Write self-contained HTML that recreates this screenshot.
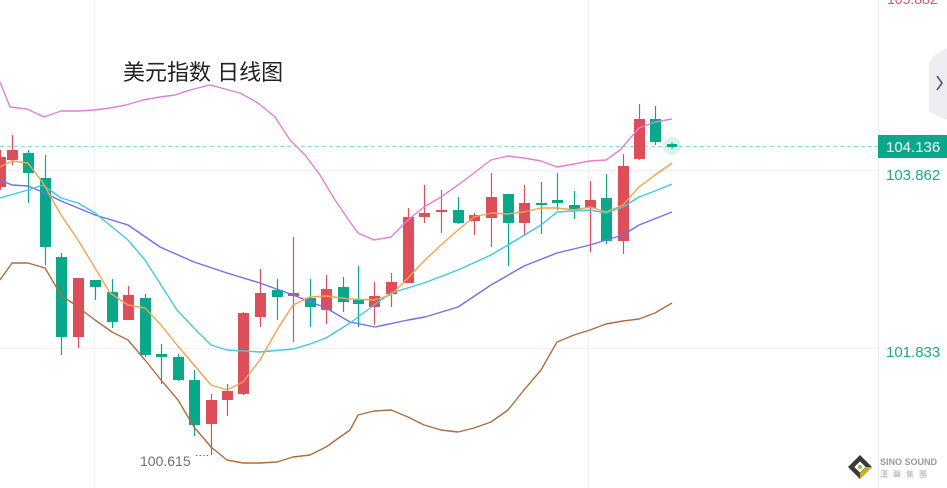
<!DOCTYPE html>
<html><head><meta charset="utf-8"><style>
html,body{margin:0;padding:0;background:#fff;width:947px;height:488px;overflow:hidden}
svg{display:block}
</style></head><body>
<svg width="947" height="488" viewBox="0 0 947 488" xmlns="http://www.w3.org/2000/svg" font-family="Liberation Sans, Noto Sans CJK SC, sans-serif">
<rect width="947" height="488" fill="#fff"/>
<!-- grid -->
<g stroke="#f0f1f5" stroke-width="1">
<line x1="0" y1="170.5" x2="878" y2="170.5"/>
<line x1="0" y1="348.5" x2="878" y2="348.5"/>
<line x1="94.5" y1="0" x2="94.5" y2="488"/>
<line x1="588.5" y1="0" x2="588.5" y2="488"/>
</g>
<line x1="878.5" y1="0" x2="878.5" y2="488" stroke="#ececef"/>
<line x1="0" y1="146.5" x2="878" y2="146.5" stroke="#8fdccb" stroke-dasharray="4,3"/>
<text x="123" y="80" font-size="22" fill="#222" font-family="Liberation Sans, Noto Sans CJK SC, sans-serif">美元指数 日线图</text>
<!-- candles -->
<g id="c" stroke-width="1.2"></g>
<g fill="none" stroke-width="1.4" stroke-linejoin="round">
<polyline stroke="#df7fd6" points="0,82 10,107 27,109 44,117 61,111 78,111 95,110 110,108 126,105 143,100 160,97 175,95 190,90 210,85 225,89 240,93 258,103 275,117 290,140 305,155 320,175 335,200 350,222 358,233 374,240 391,237 408,220 424,207 441,197 458,185 474,173 491,160 508,156 524,158 541,161 557,167 574,164 590,161 606,160 620,150 639,128 655,122 672,119"/>
<polyline stroke="#6f6ff2" points="0,180 12,185 28,186 45,193 61,201 78,208 95,215 128,225 160,247 194,262 227,273 260,283 293,295 326,308 350,322 375,327 408,320 425,317 458,307 491,285 524,266 557,253 590,245 606,240 623,235 639,225 672,212"/>
<polyline stroke="#40c8e2" points="0,198 28,190 43,185 61,198 78,203 95,213 128,240 145,260 161,285 177,310 194,328 211,345 227,350 260,352 293,349 310,344 326,338 350,323 374,305 391,293 424,283 458,270 491,255 508,245 541,225 557,212 590,210 606,213 623,207 639,197 655,191 672,184"/>
<polyline stroke="#f6a24c" points="0,167 12,161 28,163 43,183 61,215 78,240 95,268 110,293 128,305 145,308 161,325 177,345 194,365 211,385 227,390 243,382 260,360 277,330 293,305 310,297 326,296 350,299 374,300 391,295 408,278 424,261 441,245 458,230 474,217 491,213 508,214 524,212 541,208 557,208 574,210 590,207 606,212 623,205 639,187 655,175 672,163"/>
<polyline stroke="#b06c3c" points="0,280 12,263 28,263 45,268 61,295 78,307 95,320 112,332 128,340 145,360 161,380 178,400 194,427 211,447 227,460 243,463 260,463 277,462 293,457 310,455 326,447 350,430 358,415 374,411 391,410 408,417 424,425 441,430 458,432 474,428 491,422 508,410 524,390 541,370 557,342 574,335 590,330 606,324 623,321 639,319 655,313 672,303"/>
</g>
<circle cx="672" cy="146" r="9" fill="#0aa88a" opacity="0.15"/>
<rect x="667" y="144" width="10" height="3" fill="#0aa88a"/>
<line x1="672" y1="142" x2="672" y2="149" stroke="#0aa88a"/>
<text x="140" y="466" font-size="14" fill="#6a6f7a">100.615</text>
<line x1="196" y1="455.5" x2="210" y2="455.5" stroke="#6a6f7a" stroke-dasharray="1.5,2"/>
<!-- axis labels -->
<text x="887" y="4" font-size="14" fill="#e0525c">105.882</text>
<rect x="878" y="135" width="69" height="23" fill="#0aa88a"/>
<text x="886" y="152" font-size="15" fill="#fff">104.136</text>
<text x="886" y="180" font-size="15" fill="#19a98a">103.862</text>
<text x="886" y="357" font-size="15" fill="#19a98a">101.833</text>
<path d="M947,48 L935,55 L929,62 L929,112 L947,120 Z" fill="#eeeef2"/>
<path d="M937,76 L942,83 L937,90" fill="none" stroke="#555a66" stroke-width="1.6"/>
<!-- logo -->
<path d="M860,455 L872,467 L860,479 L848,467 Z" fill="#3a3a3a"/>
<path d="M860,479 L872,467 L866,467 L860,473 Z" fill="#c8b020"/>
<rect x="856" y="463" width="8" height="8" fill="#fff" transform="rotate(45 860 467)"/>
<circle cx="860" cy="467" r="2" fill="#8bc34a"/>
<text x="880" y="465" font-size="9" font-weight="bold" fill="#999">SINO SOUND</text>
<text x="880" y="477" font-size="8" fill="#aaa" letter-spacing="5" font-family="Noto Sans CJK TC, sans-serif">漢聲集團</text>
</svg>
<script>
var R="#de4e5a",G="#0aa88a";
var d=[[0,R,157,187,150,190],[12,R,150,160,135,165],[28,G,153,173,150,203],[45,G,178,247,155,265],[61,G,257,337,253,355],[78,R,278,337,278,348],[95,G,280,287,280,300],[112,G,292,322,279,328],[128,R,295,320,286,320],[145,G,298,355,294,357],[161,G,354,357,344,384],[178,G,357,380,354,381],[194,G,380,425,370,436],[211,R,400,424,394,455],[227,R,391,400,384,416],[243,R,313,394,312,395],[260,R,293,317,269,327],[277,G,290,297,279,320],[293,R,293,296,237,342],[310,G,298,307,279,327],[326,R,289,310,275,324],[343,G,287,302,277,312],[358,G,300,304,266,327],[374,R,296,307,282,325],[391,R,282,294,273,307],[408,R,217,283,208,283],[424,R,213,217,185,223],[441,R,210,212,190,233],[458,G,210,223,197,224],[474,R,215,221,213,235],[491,R,197,218,173,247],[508,G,194,223,194,266],[524,R,203,223,185,236],[541,G,203,205,182,234],[557,G,200,203,173,210],[574,G,205,209,191,219],[590,R,200,208,181,252],[606,G,198,241,174,244],[623,R,166,241,154,254],[639,R,119,159,104,160],[655,G,119,142,106,145]];
var s="";d.forEach(function(c){var x=c[0];s+='<line x1="'+(x+.5)+'" y1="'+c[4]+'" x2="'+(x+.5)+'" y2="'+c[5]+'" stroke="'+c[1]+'"/>';s+='<rect x="'+(x-5)+'" y="'+c[2]+'" width="11" height="'+Math.max(2,c[3]-c[2])+'" fill="'+c[1]+'"/>';});
document.getElementById("c").innerHTML=s;
</script>
</body></html>
